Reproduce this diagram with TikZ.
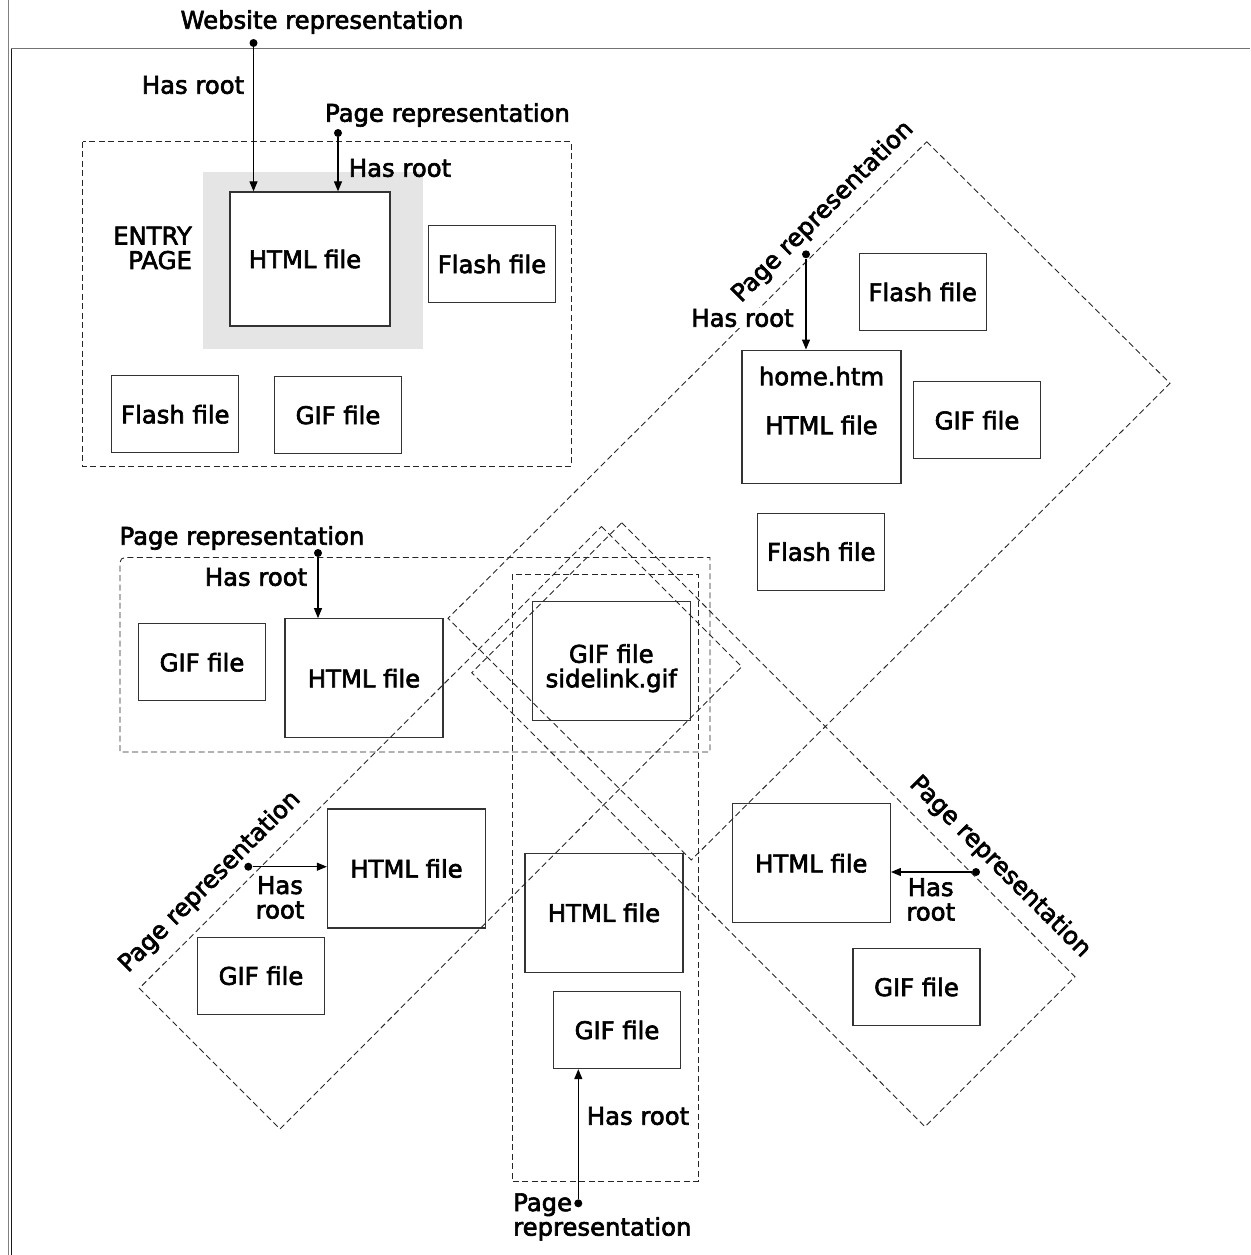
\documentclass[tikz,border=0pt]{standalone}
\usepackage{fontspec}
\setmainfont{DejaVu Sans}[FakeBold=2.6]
\usetikzlibrary{arrows.meta}
\begin{document}
\begin{tikzpicture}[x=1pt,y=-1pt,
  font=\fontsize{24.3}{24.5}\selectfont,
  filebox/.style={draw=black!80, line width=1.3pt, fill=white, inner sep=0pt,
                  minimum width=127pt, minimum height=77pt},
  bigbox/.style={filebox, minimum width=158pt, minimum height=119pt},
  grouprect/.style={draw=black!85, line width=0.9pt, dash pattern=on 6pt off 3.5pt},
  rootdot/.style={circle, fill=black, inner sep=0pt, minimum size=8pt},
  hasroot/.style={-{Triangle[length=10pt,width=8pt]}, line width=1.2pt},
  lbl/.style={inner sep=0pt}
]
\useasboundingbox (0,0) rectangle (1250,1255);

% window frame
\draw[black!50, line width=1.5pt] (8.5,0) -- (8.5,1255);
\draw[black!55, line width=1.5pt] (11,48.5) -- (1250,48.5);
\draw[black!90, line width=1.2pt] (11.5,1255) -- (11.5,49);

% entry page highlight
\fill[black!10] (203.3,171.7) rectangle (422.7,349.3);

% file boxes
\node[filebox, minimum width=160pt, minimum height=134pt] (eHTML) at (310,259) {\hspace*{-10pt}HTML file};
\node[filebox] (eFlashR) at (492,264) {Flash file};
\node[filebox] (eFlashL) at (175.3,414.3) {Flash file};
\node[filebox] (eGIF) at (338,415) {GIF file};

\node[filebox, minimum width=159pt, minimum height=133pt, align=center] (hHTML) at (821.5,416.7)
  {home.htm\\[24.5pt]HTML file\\[8pt]~};
\node[filebox] (hFlashA) at (922.7,292) {Flash file};
\node[filebox] (hGIF) at (977,420.3) {GIF file};
\node[filebox] (hFlashB) at (821.3,551.7) {Flash file};

\node[filebox] (mGIF) at (202,662.3) {GIF file};
\node[bigbox] (mHTML) at (364,678.3) {HTML file};

\node[bigbox, align=center] (sGIF) at (611.3,661) {\rule{0pt}{33pt}GIF file\\sidelink.gif};
\node[bigbox] (cHTML) at (604,912.8) {HTML file};
\node[filebox] (cGIF) at (617,1030) {GIF file};

\node[bigbox] (blHTML) at (406.5,868.5) {HTML file};
\node[filebox] (blGIF) at (261,975.7) {GIF file};

\node[bigbox] (brHTML) at (811.3,863.3) {HTML file};
\node[filebox] (brGIF) at (916.5,987) {GIF file};

% page groupings
\draw[grouprect] (82.5,141.7) rectangle (571.5,466.5);
\draw[grouprect, rounded corners=5pt] (120,600) -- (120,557.5) -- (300,557.5)
  [sharp corners] -- (710,557.5) -- (710,752) -- (120,752) -- cycle;
\draw[grouprect] (512.3,574.3) rectangle (698,1181.7);
\draw[grouprect] (926.7,141.7) -- (1170,383.3) -- (691.3,860) -- (448,618.3) -- cycle;
\draw[grouprect] (601.5,526.5) -- (741.7,666.7) -- (280,1129) -- (139.3,988.3) -- cycle;
\draw[grouprect] (621.7,522.7) -- (1075,976.7) -- (925,1126.7) -- (471.7,672.7) -- cycle;

% group labels
\node[lbl] (webLbl) at (322,22) {Website representation};
\node[lbl] (entryLbl) at (447.5,115) {Page representation};
\node[lbl, anchor=east, align=right] (entryName) at (192,248) {ENTRY\\PAGE};
\node[lbl, rotate=45] (d1Lbl) at (823,212) {Page representation};
\node[lbl] (midLbl) at (242,538) {Page representation};
\node[lbl, rotate=45] (d3Lbl) at (210,882) {Page representation};
\node[lbl, rotate=-45] (d4Lbl) at (1000,867) {Page representation};
\node[lbl, anchor=west, align=left] (cLbl) at (513,1217) {Page\\representation};

% root dots
\node[rootdot] (webDot) at (253.5,43) {};
\node[rootdot] (entryDot) at (338,133) {};
\node[rootdot] (d1Dot) at (806,254.3) {};
\node[rootdot] (midDot) at (318,553) {};
\node[rootdot] (d3Dot) at (248.3,866.7) {};
\node[rootdot] (d4Dot) at (976,872) {};
\node[rootdot] (cDot) at (578.3,1203.3) {};

% "has root" connectors
\draw[hasroot] (webDot) -- (webDot |- eHTML.north);
\draw[hasroot] (entryDot) -- (entryDot |- eHTML.north);
\draw[hasroot] (d1Dot) -- (d1Dot |- hHTML.north);
\draw[hasroot] (midDot) -- (midDot |- mHTML.north);
\draw[hasroot] (d3Dot) -- (d3Dot -| blHTML.west);
\draw[hasroot] (d4Dot) -- (d4Dot -| brHTML.east);
\draw[hasroot] (cDot) -- (cDot |- cGIF.south);

% connector labels
\node[lbl] (webRoot) at (193,85) {Has root};
\node[lbl] (entryRoot) at (400,168) {Has root};
\node[lbl, fill=white, inner sep=1pt] (d1Root) at (742.5,318) {Has root};
\node[lbl] (midRoot) at (256,577) {Has root};
\node[lbl, align=center] (d3Root) at (280,897.5) {Has\\root};
\node[lbl, align=center] (d4Root) at (930.7,899.5) {Has\\root};
\node[lbl] (cRoot) at (638,1116) {Has root};
\end{tikzpicture}
\end{document}
